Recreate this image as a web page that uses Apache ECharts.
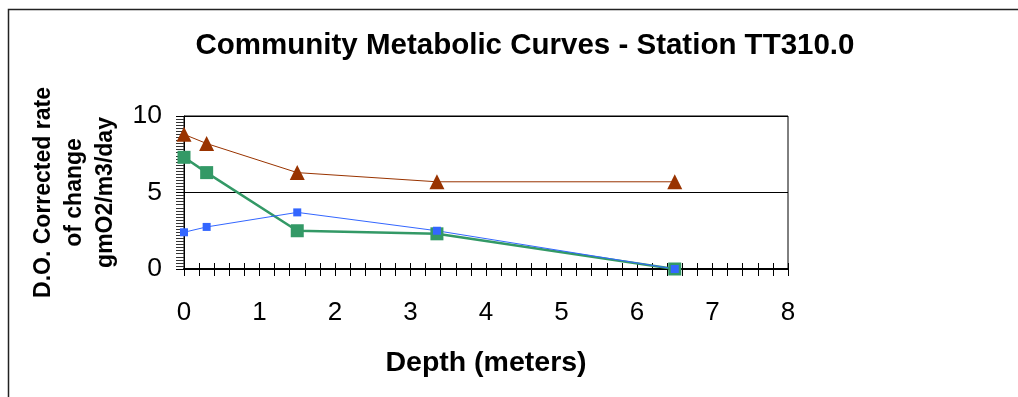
<!DOCTYPE html>
<html>
<head>
<meta charset="utf-8">
<script src="https://cdn.jsdelivr.net/npm/echarts@6/dist/echarts.min.js"></script>
<style>
html,body{margin:0;padding:0;background:#fff;}
#chart{width:1018px;height:397px;}
</style>
</head>
<body>
<div id="chart"></div>
<script>
var depths = [0, 0.3, 1.5, 3.35, 6.5];
var seriesNames = ['Gross', 'Respiration', 'Net'];
var grossValues = [8.8, 8.2, 6.3, 5.7, 5.7];
var greenValues = [7.3, 6.3, 2.5, 2.3, 0];
var blueValues = [2.4, 2.75, 3.7, 2.5, 0];
var xTicks = [0, 1, 2, 3, 4, 5, 6, 7, 8];
var yTicks = [0, 5, 10];
var titleText = 'Community Metabolic Curves - Station TT310.0';
var xName = 'Depth (meters)';
var yName = 'D.O. Corrected rate\nof change\ngmO2/m3/day';

function pairs(xs, ys) { return xs.map(function (x, i) { return [x, ys[i]]; }); }

var chart = echarts.init(document.getElementById('chart'), null, {renderer: 'canvas'});
var font = 'Arial, "Liberation Sans", sans-serif';
chart.setOption({
  animation: false,
  backgroundColor: '#fff',
  title: {
    text: titleText,
    left: 520, top: 26, textAlign: 'center',
    textStyle: {fontFamily: font, fontSize: 29.5, fontWeight: 'bold', color: '#000'}
  },
  grid: {left: 184, right: 230, top: 116, bottom: 128, show: true, borderColor: '#000', borderWidth: 1, backgroundColor: 'transparent'},
  xAxis: [{
    type: 'value', min: xTicks[0], max: xTicks[xTicks.length - 1], interval: 1,
    name: xName, nameLocation: 'middle', nameGap: 80,
    nameTextStyle: {fontFamily: font, fontSize: 28.5, fontWeight: 'bold', color: '#000'},
    axisLine: {show: true, onZero: false, lineStyle: {color: '#000', width: 2}},
    axisTick: {show: true, inside: false, length: 7, lineStyle: {color: '#000', width: 1}},
    minorTick: {show: true, splitNumber: 5, length: 7, lineStyle: {color: '#000', width: 1}},
    axisLabel: {fontFamily: font, fontSize: 26, color: '#000', margin: 31},
    splitLine: {show: false}
  }, {
    type: 'value', min: xTicks[0], max: xTicks[xTicks.length - 1], interval: 1, position: 'bottom',
    axisLine: {show: false},
    axisTick: {show: true, inside: true, length: 6, lineStyle: {color: '#000', width: 1}},
    minorTick: {show: true, splitNumber: 5, length: 6, lineStyle: {color: '#000', width: 1}},
    axisLabel: {show: false},
    splitLine: {show: false}
  }],
  yAxis: {
    type: 'value', min: yTicks[0], max: yTicks[yTicks.length - 1], interval: 5,
    name: yName, nameLocation: 'middle', nameGap: 60,
    nameTextStyle: {fontFamily: font, fontSize: 23, fontWeight: 'bold', color: '#000', lineHeight: 31, align: 'center'},
    axisLine: {show: true, lineStyle: {color: '#000', width: 1}},
    axisTick: {show: true, inside: false, length: 8, lineStyle: {color: '#000', width: 1}},
    minorTick: {show: true, splitNumber: 25, length: 8, lineStyle: {color: '#333', width: 1}},
    axisLabel: {fontFamily: font, fontSize: 26.5, color: '#000', margin: 22},
    splitLine: {show: true, lineStyle: {color: '#000', width: 1}}
  },
  series: [{
    name: seriesNames[0], type: 'line', data: pairs(depths, grossValues),
    symbol: 'triangle', symbolSize: 15,
    lineStyle: {color: '#993300', width: 1},
    itemStyle: {color: '#993300'}
  }, {
    name: seriesNames[1], type: 'line', data: pairs(depths, greenValues),
    symbol: 'rect', symbolSize: 13,
    lineStyle: {color: '#339966', width: 2.5},
    itemStyle: {color: '#339966'}
  }, {
    name: seriesNames[2], type: 'line', data: pairs(depths, blueValues),
    symbol: 'rect', symbolSize: 8,
    lineStyle: {color: '#3366FF', width: 1},
    itemStyle: {color: '#3366FF'}
  }],
  graphic: [{
    type: 'polyline', silent: true,
    shape: {points: [[8.5, 397], [8.5, 9.5], [1018, 9.5]]},
    style: {stroke: '#222', lineWidth: 1.5, fill: null}
  }]
});
</script>
</body>
</html>
